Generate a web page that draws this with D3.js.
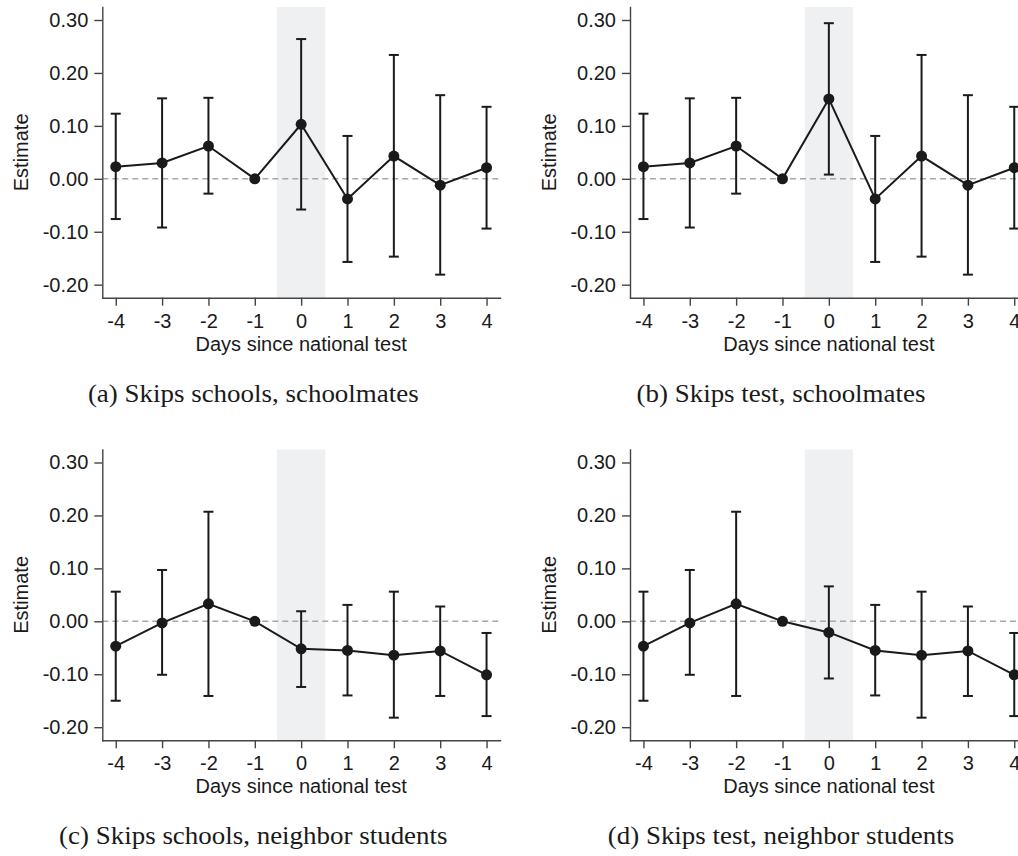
<!DOCTYPE html>
<html lang="en">
<head>
<meta charset="UTF-8">
<script src="https://d3js.org/d3.v7.min.js"></script>
<title>Skipping around the national test</title>
<style>
  body { margin: 0; background: #fff; }
  svg { display: block; }
  .sans { font-family: "Liberation Sans", Arial, Helvetica, sans-serif; font-size: 20px; fill: #1a1a1a; }
  .serif { font-family: "Liberation Serif", "Times New Roman", serif; font-size: 24.5px; fill: #1a1a1a; }
  /* captions are set a little wider than the font's own metrics */
  .wide { transform-box: fill-box; transform-origin: 50% 50%; transform: scaleX(1.1); }
</style>
</head>
<body>
<svg id="chart"></svg>
<script>
const days = [-4, -3, -2, -1, 0, 1, 2, 3, 4];
const xTickLabels = ["-4", "-3", "-2", "-1", "0", "1", "2", "3", "4"];
const yTicks = [-0.2, -0.1, 0, 0.1, 0.2, 0.3];
const yTickLabels = ["-0.20", "-0.10", "0.00", "0.10", "0.20", "0.30"];
const xTitle = "Days since national test";
const yTitle = "Estimate";
const captions = [
    "(a) Skips schools, schoolmates",
    "(b) Skips test, schoolmates",
    "(c) Skips schools, neighbor students",
    "(d) Skips test, neighbor students"
];

// (a) skips school, schoolmates
const estA = [0.023, 0.030, 0.062, 0, 0.103, -0.038, 0.043, -0.012, 0.021];
const loA  = [-0.076, -0.092, -0.028, null, -0.058, -0.157, -0.147, -0.181, -0.094];
const hiA  = [0.123, 0.152, 0.153, null, 0.264, 0.081, 0.234, 0.158, 0.136];
// (b) skips test, schoolmates
const estB = [0.023, 0.030, 0.062, 0, 0.151, -0.038, 0.043, -0.012, 0.021];
const loB  = [-0.076, -0.092, -0.028, null, 0.008, -0.157, -0.147, -0.181, -0.094];
const hiB  = [0.123, 0.152, 0.153, null, 0.294, 0.081, 0.234, 0.158, 0.136];
// (c) skips school, neighbor students
const estC = [-0.047, -0.003, 0.033, 0, -0.052, -0.055, -0.064, -0.056, -0.101];
const loC  = [-0.150, -0.101, -0.141, null, -0.124, -0.140, -0.182, -0.141, -0.179];
const hiC  = [0.056, 0.097, 0.207, null, 0.019, 0.031, 0.056, 0.028, -0.022];
// (d) skips test, neighbor students
const estD = [-0.047, -0.003, 0.033, 0, -0.021, -0.055, -0.064, -0.056, -0.101];
const loD  = [-0.150, -0.101, -0.141, null, -0.108, -0.140, -0.182, -0.141, -0.179];
const hiD  = [0.056, 0.097, 0.207, null, 0.066, 0.031, 0.056, 0.028, -0.022];

const panels = [
    {est: estA, lo: loA, hi: hiA, caption: captions[0], col: 0, row: 0},
    {est: estB, lo: loB, hi: hiB, caption: captions[1], col: 1, row: 0},
    {est: estC, lo: loC, hi: hiC, caption: captions[2], col: 0, row: 1},
    {est: estD, lo: loD, hi: hiD, caption: captions[3], col: 1, row: 1}
];

const width = 1018, height = 856;
const plotLeft = 102.3, plotTop = 7, pw = 397.7, ph = 290.7;
const colStep = 527.7, rowStep = 442.5;
const ink = "#1a1a1a";

const x = d3.scaleLinear().domain([-4.29, 4.29]).range([0, pw]);
const y = d3.scaleLinear().domain([-0.22456, 0.32456]).range([ph, 0]);

const svg = d3.select("#chart").attr("width", width).attr("height", height);

panels.forEach(p => {
    const g = svg.append("g")
        .attr("transform", `translate(${plotLeft + p.col * colStep},${plotTop + p.row * rowStep})`);

    // test-day band
    g.append("rect")
        .attr("x", x(-0.52)).attr("y", 0)
        .attr("width", x(0.52) - x(-0.52)).attr("height", ph)
        .attr("fill", "#eff0f2");

    // zero reference
    g.append("line")
        .attr("x1", 0).attr("x2", pw)
        .attr("y1", y(0)).attr("y2", y(0))
        .attr("stroke", "#a8a8a8").attr("stroke-width", 1.6)
        .attr("stroke-dasharray", "6,4");

    const yAxis = d3.axisLeft(y).tickValues(yTicks)
        .tickFormat((d, i) => yTickLabels[i])
        .tickSize(8).tickSizeOuter(0).tickPadding(6);
    g.append("g").call(yAxis)
        .call(a => a.selectAll("path,line").attr("stroke", "#444").attr("stroke-width", 1.4))
        .call(a => a.selectAll("text").attr("class", "sans").attr("font-size", null).attr("font-family", null));

    const xAxis = d3.axisBottom(x).tickValues(days)
        .tickFormat((d, i) => xTickLabels[i])
        .tickSize(8).tickSizeOuter(0).tickPadding(8);
    g.append("g").attr("transform", `translate(0,${ph})`).call(xAxis)
        .call(a => a.selectAll("path,line").attr("stroke", "#444").attr("stroke-width", 1.4))
        .call(a => a.selectAll("text").attr("class", "sans").attr("font-size", null).attr("font-family", null));
    g.selectAll(".domain").attr("stroke-linecap", "square");

    g.append("text").attr("class", "sans")
        .attr("x", pw / 2).attr("y", ph + 53)
        .attr("text-anchor", "middle").text(xTitle);

    g.append("text").attr("class", "sans")
        .attr("transform", `translate(${20.7 - plotLeft},${ph / 2}) rotate(-90)`)
        .attr("text-anchor", "middle").attr("dy", "0.36em").text(yTitle);

    const pts = days.map((d, i) => ({d, e: p.est[i], lo: p.lo[i], hi: p.hi[i]}));
    const bars = pts.filter(q => q.lo !== null);

    // confidence intervals
    const eb = g.append("g").attr("stroke", ink).attr("stroke-width", 2).attr("fill", "none");
    eb.selectAll(".stem").data(bars).join("line").attr("class", "stem")
        .attr("x1", q => x(q.d)).attr("x2", q => x(q.d))
        .attr("y1", q => y(q.lo)).attr("y2", q => y(q.hi));
    eb.selectAll(".capHi").data(bars).join("line").attr("class", "capHi")
        .attr("x1", q => x(q.d) - 5).attr("x2", q => x(q.d) + 5)
        .attr("y1", q => y(q.hi)).attr("y2", q => y(q.hi));
    eb.selectAll(".capLo").data(bars).join("line").attr("class", "capLo")
        .attr("x1", q => x(q.d) - 5).attr("x2", q => x(q.d) + 5)
        .attr("y1", q => y(q.lo)).attr("y2", q => y(q.lo));

    const line = d3.line().x(q => x(q.d)).y(q => y(q.e));
    g.append("path").attr("d", line(pts))
        .attr("fill", "none").attr("stroke", ink).attr("stroke-width", 2);

    g.selectAll("circle").data(pts).join("circle")
        .attr("cx", q => x(q.d)).attr("cy", q => y(q.e))
        .attr("r", 5.5).attr("fill", ink);

    g.append("text").attr("class", "serif wide")
        .attr("x", 151).attr("y", 395)
        .attr("text-anchor", "middle").text(p.caption);
});
</script>
</body>
</html>
